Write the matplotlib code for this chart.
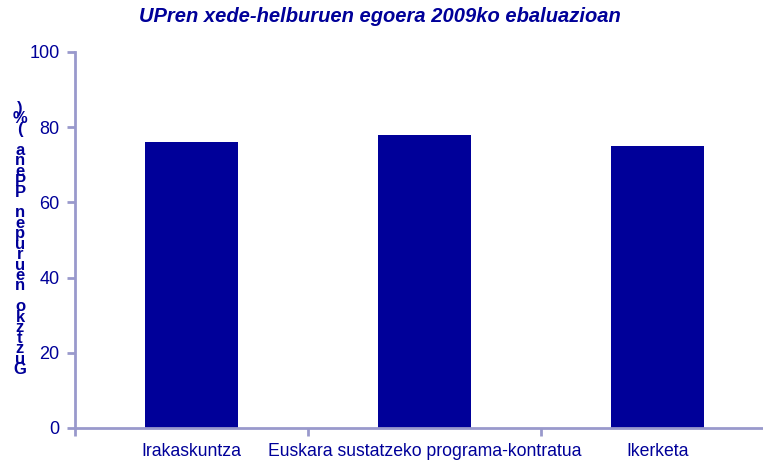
import matplotlib.pyplot as plt
import numpy as np

# chart data
categories = ["Irakaskuntza", "Euskara sustatzeko programa-kontratua", "Ikerketa"]
values = [76, 78, 75]
yticks = [0, 20, 40, 60, 80, 100]
title = "UPren xede-helburuen egoera 2009ko ebaluazioan"
ylabel = "Guztzko neurupen PPena (%)"

text_color = "#000099"
bar_color = "#000099"
axis_color = "#9999CC"

plt.rcParams['font.family'] = ['Liberation Sans', 'DejaVu Sans']

fig = plt.figure(figsize=(7.63, 4.63), dpi=100)
ax = fig.add_axes([75 / 763, 35 / 463, 699 / 763, 376 / 463])

x = np.arange(len(categories))
ax.bar(x, values, width=0.4, color=bar_color, zorder=2)

ax.set_xlim(-0.5, len(categories) - 0.5)
ax.set_ylim(0, 100)
ax.set_yticks(yticks)
ax.set_yticklabels([str(v) for v in yticks], fontsize=13, color=text_color)

# category labels between boundary ticks
ax.set_xticks(np.arange(len(categories) + 1) - 0.5)
ax.set_xticklabels([])
ax.set_xticks(x, minor=True)
ax.set_xticklabels(categories, minor=True, fontsize=12.7, color=text_color)
ax.tick_params(axis='x', which='minor', length=0, pad=11)
ax.tick_params(axis='x', which='major', length=6, width=2, color=axis_color)
ax.tick_params(axis='y', length=6, width=2, color=axis_color, pad=5)

for side in ['top', 'right']:
    ax.spines[side].set_visible(False)
for side in ['left', 'bottom']:
    ax.spines[side].set_color(axis_color)
    ax.spines[side].set_linewidth(2)

fig.text(380 / 763, 1 - 17 / 463, title, ha='center', va='center',
         fontsize=14.5, fontweight='bold', fontstyle='italic', color=text_color)

# stacked vertical axis title, read from bottom to top
stacked = "\n".join(reversed(ylabel))
fig.text(20 / 763, 1 - 239 / 463, stacked, ha='center', va='center',
         fontsize=12, fontweight='bold', color=text_color, linespacing=0.62)

fig.savefig("out.png", dpi=100)
